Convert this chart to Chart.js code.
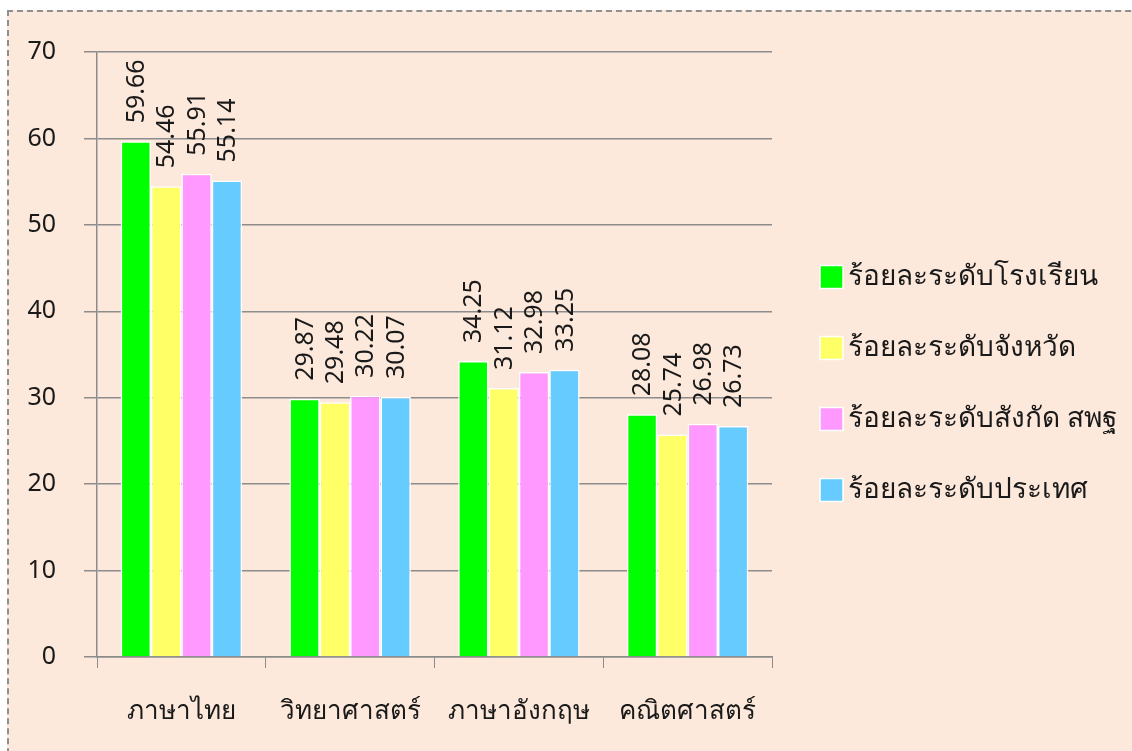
<!DOCTYPE html>
<html lang="th">
<head>
  <meta charset="UTF-8">
  <title>ร้อยละคะแนนเฉลี่ย</title>
  <script src="https://cdn.jsdelivr.net/npm/chart.js"></script>
  <style>
    html, body {
      margin: 0;
      padding: 0;
      background: #ffffff;
      overflow: hidden;
    }
    .frame {
      position: absolute;
      left: 7px;
      top: 10px;
      width: 1200px;
      height: 800px;
      border: 2px dashed #8f8f8f;
      background: #fde9db;
    }
    .wrap {
      position: absolute;
      left: 0;
      top: 0;
      width: 1132px;
      height: 751px;
    }
  </style>
</head>
<body>
  <div class="frame"></div>
  <div class="wrap"><canvas id="grafiku"></canvas></div>

  <script>
    const vichat = ['ภาษาไทย', 'วิทยาศาสตร์', 'ภาษาอังกฤษ', 'คณิตศาสตร์'];
    const rongrian = [59.66, 29.87, 34.25, 28.08];
    const changwat = [54.46, 29.48, 31.12, 25.74];
    const sangkat = [55.91, 30.22, 32.98, 26.98];
    const prathet = [55.14, 30.07, 33.25, 26.73];
    const yTicks = [0, 10, 20, 30, 40, 50, 60, 70];

    const fontThai = '"Noto Sans", "DejaVu Sans", sans-serif';

    // ตัวเลขแนวตั้งบนแท่ง
    const labelPlugin = {
      id: 'barLabels',
      afterDatasetsDraw(chart) {
        const ctx = chart.ctx;
        ctx.save();
        ctx.fillStyle = '#1a1a1a';
        ctx.font = '25px ' + fontThai;
        ctx.textAlign = 'left';
        ctx.textBaseline = 'middle';
        chart.data.datasets.forEach((ds, i) => {
          chart.getDatasetMeta(i).data.forEach((bar, j) => {
            ctx.save();
            ctx.translate(bar.x + 1, bar.y - 18);
            ctx.rotate(-Math.PI / 2);
            ctx.fillText(ds.data[j].toFixed(2), 0, 0);
            ctx.restore();
          });
        });
        ctx.restore();
      }
    };

    // คำอธิบายสัญลักษณ์ด้านขวา
    const legendPlugin = {
      id: 'sideLegend',
      afterDraw(chart) {
        const ctx = chart.ctx;
        const area = chart.chartArea;
        ctx.save();
        ctx.font = '28px ' + fontThai;
        ctx.textAlign = 'left';
        ctx.textBaseline = 'middle';
        chart.data.datasets.forEach((ds, i) => {
          const cy = area.top + 225 + i * 71;
          const x = area.right + 48;
          ctx.fillStyle = ds.backgroundColor;
          ctx.fillRect(x, cy - 11.5, 23, 23);
          ctx.strokeStyle = '#ffffff';
          ctx.lineWidth = 1.5;
          ctx.strokeRect(x, cy - 11.5, 23, 23);
          ctx.fillStyle = '#1a1a1a';
          ctx.fillText(ds.label, x + 28, cy);
        });
        ctx.restore();
      }
    };

    const ctx = document.getElementById('grafiku').getContext('2d');
    new Chart(ctx, {
      type: 'bar',
      data: {
        labels: vichat,
        datasets: [
          { label: 'ร้อยละระดับโรงเรียน', data: rongrian, backgroundColor: '#00ff00' },
          { label: 'ร้อยละระดับจังหวัด', data: changwat, backgroundColor: '#ffff66' },
          { label: 'ร้อยละระดับสังกัด สพฐ', data: sangkat, backgroundColor: '#ff99ff' },
          { label: 'ร้อยละระดับประเทศ', data: prathet, backgroundColor: '#66ccff' }
        ].map(d => Object.assign(d, { borderColor: '#ffffff', borderWidth: 1.5, borderSkipped: 'bottom' }))
      },
      options: {
        responsive: true,
        maintainAspectRatio: false,
        animation: false,
        datasets: { bar: { categoryPercentage: 0.72, barPercentage: 1.0 } },
        layout: { padding: { left: 26, top: 52, right: 360, bottom: 0 } },
        plugins: {
          tooltip: { enabled: false },
          legend: { display: false }
        },
        scales: {
          x: {
            afterFit(axis) { axis.height = 94; },
            grid: { drawOnChartArea: false, drawTicks: true, tickLength: 11, color: '#8c8c8c', offset: true },
            border: { color: '#8c8c8c', width: 1.5 },
            ticks: { color: '#1a1a1a', font: { size: 26, family: fontThai }, padding: 28 }
          },
          y: {
            min: 0,
            max: 70,
            afterFit(axis) { axis.width = 71; },
            afterBuildTicks(axis) { axis.ticks = yTicks.map(v => ({ value: v })); },
            grid: { color: '#8c8c8c', lineWidth: 1.5, tickLength: 13 },
            border: { color: '#8c8c8c', width: 1.5 },
            ticks: { color: '#1a1a1a', font: { size: 25, family: fontThai }, padding: 28 }
          }
        }
      },
      plugins: [labelPlugin, legendPlugin]
    });
  </script>
</body>
</html>
